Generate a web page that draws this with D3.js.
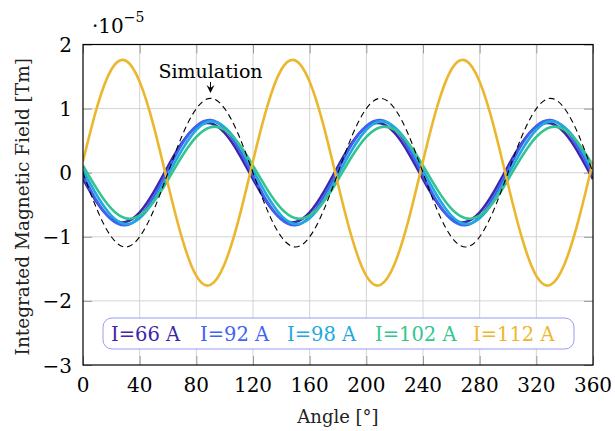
<!DOCTYPE html>
<html>
<head>
<meta charset="utf-8">
<script src="https://cdn.jsdelivr.net/npm/d3@7"></script>
<style>
  body { margin: 0; background: #fff; }
  text { font-family: "DejaVu Serif", serif; }
</style>
</head>
<body>
<div id="chart"></div>
<script>
// angle samples, every 10 degrees
const angles = [0,10,20,30,40,50,60,70,80,90,100,110,120,130,140,150,160,170,180,
  190,200,210,220,230,240,250,260,270,280,290,300,310,320,330,340,350,360];

// values (x 1e-5 Tm)
const i66 = [-0.10,-0.47,-0.72,-0.77,-0.62,-0.30,0.10,0.47,0.72,0.77,0.62,0.30,
  -0.10,-0.47,-0.72,-0.77,-0.62,-0.30,0.10,0.47,0.72,0.77,0.62,0.30,
  -0.10,-0.47,-0.72,-0.77,-0.62,-0.30,0.10,0.47,0.72,0.77,0.62,0.30,-0.10];
const i92 = [-0.04,-0.45,-0.73,-0.82,-0.69,-0.37,0.04,0.45,0.73,0.82,0.69,0.37,
  -0.04,-0.45,-0.73,-0.82,-0.69,-0.37,0.04,0.45,0.73,0.82,0.69,0.37,
  -0.04,-0.45,-0.73,-0.82,-0.69,-0.37,0.04,0.45,0.73,0.82,0.69,0.37,-0.04];
const i98 = [0.04,-0.36,-0.67,-0.80,-0.71,-0.44,-0.04,0.36,0.67,0.80,0.71,0.44,
  0.04,-0.36,-0.67,-0.80,-0.71,-0.44,-0.04,0.36,0.67,0.80,0.71,0.44,
  0.04,-0.36,-0.67,-0.80,-0.71,-0.44,-0.04,0.36,0.67,0.80,0.71,0.44,0.04];
const i102 = [0.11,-0.26,-0.56,-0.71,-0.67,-0.45,-0.11,0.26,0.56,0.71,0.67,0.45,
  0.11,-0.26,-0.56,-0.71,-0.67,-0.45,-0.11,0.26,0.56,0.71,0.67,0.45,
  0.11,-0.26,-0.56,-0.71,-0.67,-0.45,-0.11,0.26,0.56,0.71,0.67,0.45,0.11];
const i112 = [0.18,1.03,1.61,1.75,1.42,0.72,-0.18,-1.03,-1.61,-1.75,-1.42,-0.72,
  0.18,1.03,1.61,1.75,1.42,0.72,-0.18,-1.03,-1.61,-1.75,-1.42,-0.72,
  0.18,1.03,1.61,1.75,1.42,0.72,-0.18,-1.03,-1.61,-1.75,-1.42,-0.72,0.18];
const simulation = [0,-0.58,-1.00,-1.16,-1.00,-0.58,0,0.58,1.00,1.16,1.00,0.58,
  0,-0.58,-1.00,-1.16,-1.00,-0.58,0,0.58,1.00,1.16,1.00,0.58,
  0,-0.58,-1.00,-1.16,-1.00,-0.58,0,0.58,1.00,1.16,1.00,0.58,0];

const labels = ["I=66 A", "I=92 A", "I=98 A", "I=102 A", "I=112 A"];
const colors = ["#3e26a8", "#4163f5", "#1fa9e1", "#33c58f", "#ecb72e"];
const xTicks = [0,40,80,120,160,200,240,280,320,360];
const yTicks = [-3,-2,-1,0,1,2];

const series = [i66, i92, i98, i102, i112];

const W = 615, H = 431;
const margin = { top: 44.5, right: 22, bottom: 66, left: 83 };
const width = W - margin.left - margin.right,
      height = H - margin.top - margin.bottom;

const svg = d3.select("#chart").append("svg")
    .attr("width", W)
    .attr("height", H);

const chart = svg.append("g")
    .attr("transform", "translate(" + margin.left + "," + margin.top + ")");

const x = d3.scaleLinear().domain([0, 360]).range([0, width]);
const y = d3.scaleLinear().domain([-3, 2]).range([height, 0]);

// grid
chart.append("g")
    .selectAll("line.gx")
    .data(xTicks.slice(1, -1))
    .enter().append("line")
    .attr("x1", d => x(d)).attr("x2", d => x(d))
    .attr("y1", 0).attr("y2", height)
    .attr("stroke", "#d3d3d3").attr("stroke-width", 1);
chart.append("g")
    .selectAll("line.gy")
    .data(yTicks.slice(1, -1))
    .enter().append("line")
    .attr("y1", d => y(d)).attr("y2", d => y(d))
    .attr("x1", 0).attr("x2", width)
    .attr("stroke", "#d3d3d3").attr("stroke-width", 1);

// inner ticks on all four sides
const tickLen = 9;
const axisStyle = g => {
    g.select(".domain").remove();
    g.selectAll(".tick line").attr("stroke", "#9a9a9a").attr("stroke-width", 1);
    g.selectAll(".tick text").remove();
};
chart.append("g").attr("transform", "translate(0," + height + ")")
    .call(d3.axisBottom(x).tickValues(xTicks).tickSize(-tickLen)).call(axisStyle);
chart.append("g")
    .call(d3.axisTop(x).tickValues(xTicks).tickSize(-tickLen)).call(axisStyle);
chart.append("g")
    .call(d3.axisLeft(y).tickValues(yTicks).tickSize(-tickLen)).call(axisStyle);
chart.append("g").attr("transform", "translate(" + width + ",0)")
    .call(d3.axisRight(y).tickValues(yTicks).tickSize(-tickLen)).call(axisStyle);

// tick labels
chart.append("g").selectAll("text")
    .data(xTicks).enter().append("text")
    .attr("x", d => x(d)).attr("y", height + 27)
    .attr("text-anchor", "middle")
    .attr("font-size", 20)
    .text(d => d);
chart.append("g").selectAll("text")
    .data(yTicks).enter().append("text")
    .attr("x", -11).attr("y", d => y(d) + 7.5)
    .attr("text-anchor", "end")
    .attr("font-size", 20)
    .text(d => d < 0 ? "\u2212" + Math.abs(d) : d);

// exponent
const ex = svg.append("text").attr("x", 92).attr("y", 33).attr("font-size", 20);
ex.append("tspan").text("\u00b710");
ex.append("tspan").attr("dy", -11).attr("font-size", 14).text("\u22125");

// axis labels
svg.append("text")
    .attr("x", margin.left + width / 2).attr("y", 423)
    .attr("text-anchor", "middle").attr("font-size", 18)
    .attr("fill", "#222")
    .text("Angle [\u00b0]");
svg.append("text")
    .attr("transform", "translate(29," + (margin.top + height / 2 + 2) + ") rotate(-90)")
    .attr("text-anchor", "middle").attr("font-size", 18.5)
    .attr("fill", "#222")
    .text("Integrated Magnetic Field [Tm]");

// curves
const line = d3.line()
    .x((d, i) => x(angles[i]))
    .y(d => y(d))
    .curve(d3.curveNatural);

svg.append("defs").append("clipPath").attr("id", "clip")
    .append("rect").attr("x", 0).attr("y", 0).attr("width", width).attr("height", height);

const curves = chart.append("g").attr("clip-path", "url(#clip)");
series.forEach((s, k) => {
    curves.append("path")
        .datum(s)
        .attr("d", line)
        .attr("fill", "none")
        .attr("stroke", colors[k])
        .attr("stroke-width", 2.6);
});
curves.append("path")
    .datum(simulation)
    .attr("d", line)
    .attr("fill", "none")
    .attr("stroke", "#000")
    .attr("stroke-width", 1.1)
    .attr("stroke-dasharray", "6,4");

// frame
chart.append("rect")
    .attr("width", width).attr("height", height)
    .attr("fill", "none").attr("stroke", "#000").attr("stroke-width", 1.2);

// simulation annotation
chart.append("text")
    .attr("x", x(90)).attr("y", 78 - margin.top)
    .attr("text-anchor", "middle").attr("font-size", 19)
    .text("Simulation");
const ax = x(90), ay0 = 82 - margin.top, ay1 = 93 - margin.top;
chart.append("line")
    .attr("x1", ax).attr("x2", ax).attr("y1", ay0).attr("y2", ay1 - 4)
    .attr("stroke", "#000").attr("stroke-width", 1);
chart.append("path")
    .attr("d", "M" + ax + "," + ay1 + " L" + (ax - 4) + "," + (ay1 - 8) +
        " L" + ax + "," + (ay1 - 5) + " L" + (ax + 4) + "," + (ay1 - 8) + "Z")
    .attr("fill", "#000");

// legend
const legend = svg.append("g");
legend.append("rect")
    .attr("x", 103).attr("y", 318).attr("width", 471).attr("height", 31)
    .attr("rx", 9)
    .attr("fill", "#fff").attr("stroke", "#9a9af5").attr("stroke-width", 1);
const legendX = [111, 200, 287, 375, 473];
legend.selectAll("text")
    .data(labels).enter().append("text")
    .attr("x", (d, i) => legendX[i]).attr("y", 341)
    .attr("font-size", 19.5)
    .attr("fill", (d, i) => colors[i])
    .text(d => d);
</script>
</body>
</html>
